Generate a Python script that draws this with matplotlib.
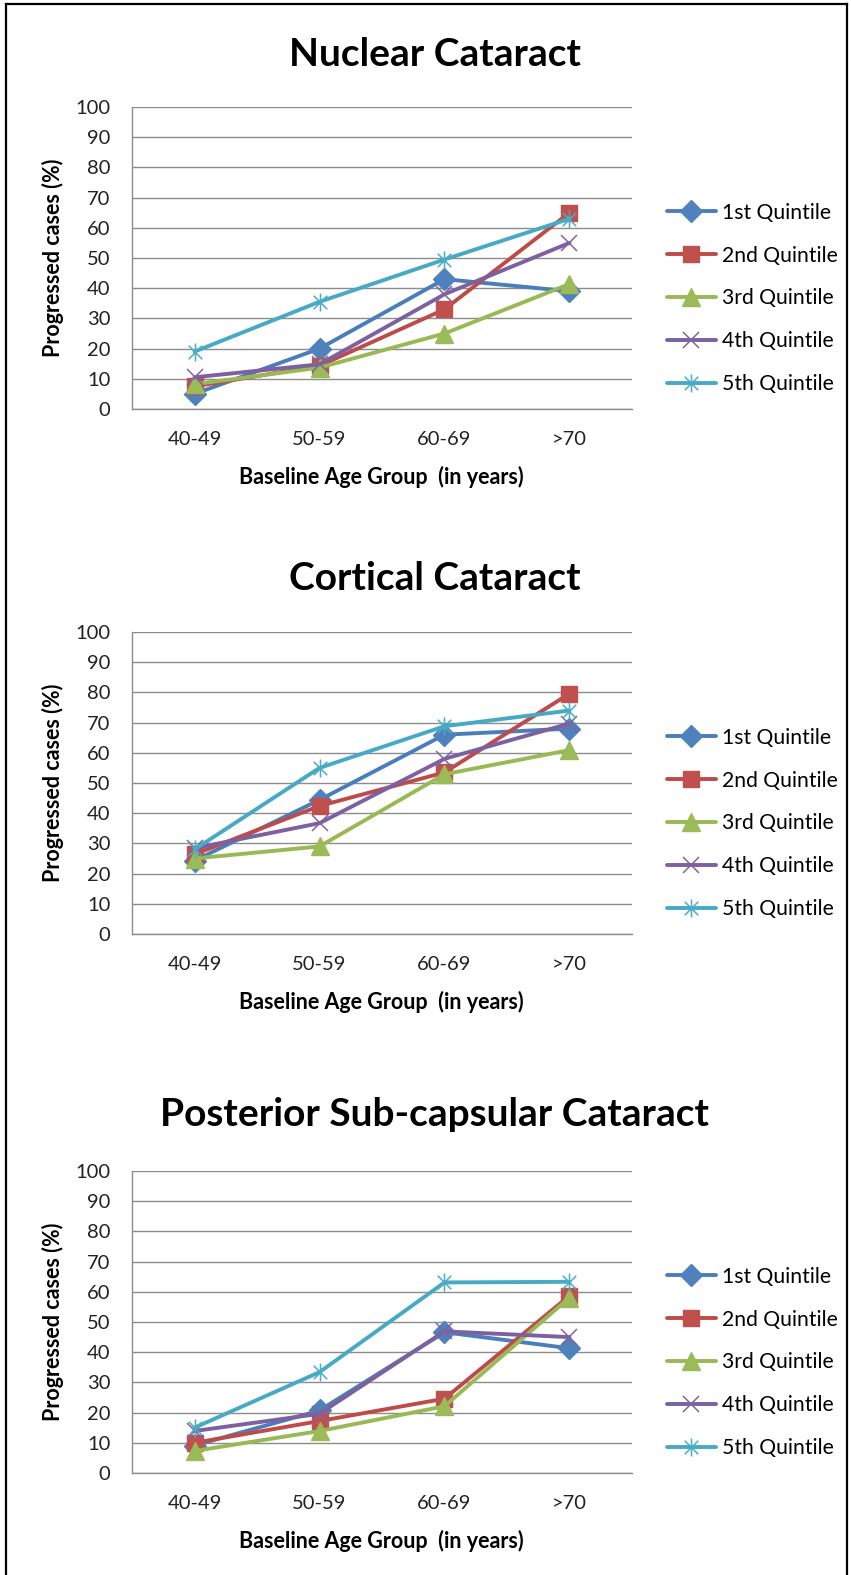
import numpy as np
import matplotlib
matplotlib.use("Agg")
import matplotlib.pyplot as plt
from matplotlib.path import Path
from matplotlib.lines import Line2D

plt.rcParams['font.family'] = ['Lato', 'DejaVu Sans']

age_groups = ['40-49', '50-59', '60-69', '>70']
quintiles = ['1st Quintile', '2nd Quintile', '3rd Quintile', '4th Quintile', '5th Quintile']

# progressed cases (%) per quintile
nuclear = [
    [5, 20, 43, 39],
    [7.5, 14.3, 33, 65],
    [8.2, 13.7, 25, 41.4],
    [10.5, 14.8, 38, 55],
    [19, 35.5, 49.5, 63],
]
cortical = [
    [24.3, 44.4, 66, 68],
    [26.4, 42.4, 53.5, 79.6],
    [25, 29, 52.9, 60.9],
    [28.4, 36.7, 58, 69.7],
    [28, 55, 68.8, 74],
]
psc = [
    [9.1, 20.7, 46.6, 41.3],
    [10, 17.2, 24.6, 58.7],
    [7.3, 13.9, 22.1, 58.1],
    [13.9, 19.6, 46.9, 45],
    [15, 33.4, 63.1, 63.3],
]
titles = ['Nuclear Cataract', 'Cortical Cataract', 'Posterior Sub-capsular Cataract']

line_colors = ['#4A7EBB', '#BE4B48', '#98B954', '#7D60A0', '#46AAC5']
marker_colors = ['#4F81BD', '#C0504D', '#9BBB59', '#8064A2', '#4BACC6']

# Excel style star: vertical bar plus an X
star = Path([(0, -1), (0, 1), (-0.75, -0.75), (0.75, 0.75), (-0.75, 0.75), (0.75, -0.75)],
            [Path.MOVETO, Path.LINETO, Path.MOVETO, Path.LINETO, Path.MOVETO, Path.LINETO])
markers = ['D', 's', '^', 'x', star]
msizes = [11, 12, 13.5, 12, 13]
thin = [False, False, False, True, True]

W, H = 851, 1575
fig = plt.figure(figsize=(W / 100, H / 100), dpi=100)

# outer frame
fig.add_artist(Line2D([6 / W, 6 / W], [0, 1 - 4 / H], color='black', lw=1.6))
fig.add_artist(Line2D([847 / W, 847 / W], [0, 1 - 4 / H], color='black', lw=1.6))
fig.add_artist(Line2D([6 / W, 847 / W], [1 - 4 / H, 1 - 4 / H], color='black', lw=1.6))

panels = [(nuclear, 409), (cortical, 934), (psc, 1473)]
title_y = [1.175, 1.176, 1.187]

for i, (data, bot) in enumerate(panels):
    ax = fig.add_axes([132 / W, 1 - bot / H, 500 / W, 302 / H])
    x = np.arange(len(age_groups))
    for j, vals in enumerate(data):
        ax.plot(x, vals, color=line_colors[j], lw=2.8, marker=markers[j], ms=msizes[j],
                markerfacecolor=marker_colors[j], markeredgecolor=marker_colors[j],
                markeredgewidth=1.1 if thin[j] else 1, label=quintiles[j],
                solid_capstyle='round', zorder=3 + j)
    ax.set_xlim(-0.5, 3.5)
    ax.set_ylim(0, 100)
    ax.set_yticks(np.arange(0, 101, 10))
    ax.set_xticks(x)
    ax.set_xticklabels(age_groups)
    ax.grid(axis='y', color='#8C8C8C', lw=1)
    ax.set_axisbelow(True)
    for s in ['top', 'right']:
        ax.spines[s].set_visible(False)
    for s in ['left', 'bottom']:
        ax.spines[s].set_color('#8C8C8C')
        ax.spines[s].set_linewidth(1)
    ax.tick_params(axis='both', length=0, labelsize=14.5, colors='#222222')
    ax.tick_params(axis='y', pad=15.5)
    ax.tick_params(axis='x', pad=16)
    ax.set_xlabel('Baseline Age Group  (in years)', fontsize=15.5, fontweight='bold')
    ax.xaxis.set_label_coords(0.498, -0.224)
    ax.xaxis.label.set_va('center')
    ax.set_ylabel('Progressed cases (%)', fontsize=15.5, fontweight='bold')
    ax.yaxis.set_label_coords(-0.158, 0.5)
    ax.yaxis.label.set_va('center')
    ax.text(0.606, title_y[i], titles[i], transform=ax.transAxes, ha='center', va='center',
            fontsize=28, fontweight='bold')
    ax.legend(loc='center left', bbox_to_anchor=(1.07, 0.366), frameon=False,
              borderaxespad=0, borderpad=0, handlelength=2.3, handletextpad=0.3,
              labelspacing=1.08, fontsize=15.2)

fig.savefig('out.png', dpi=100)
